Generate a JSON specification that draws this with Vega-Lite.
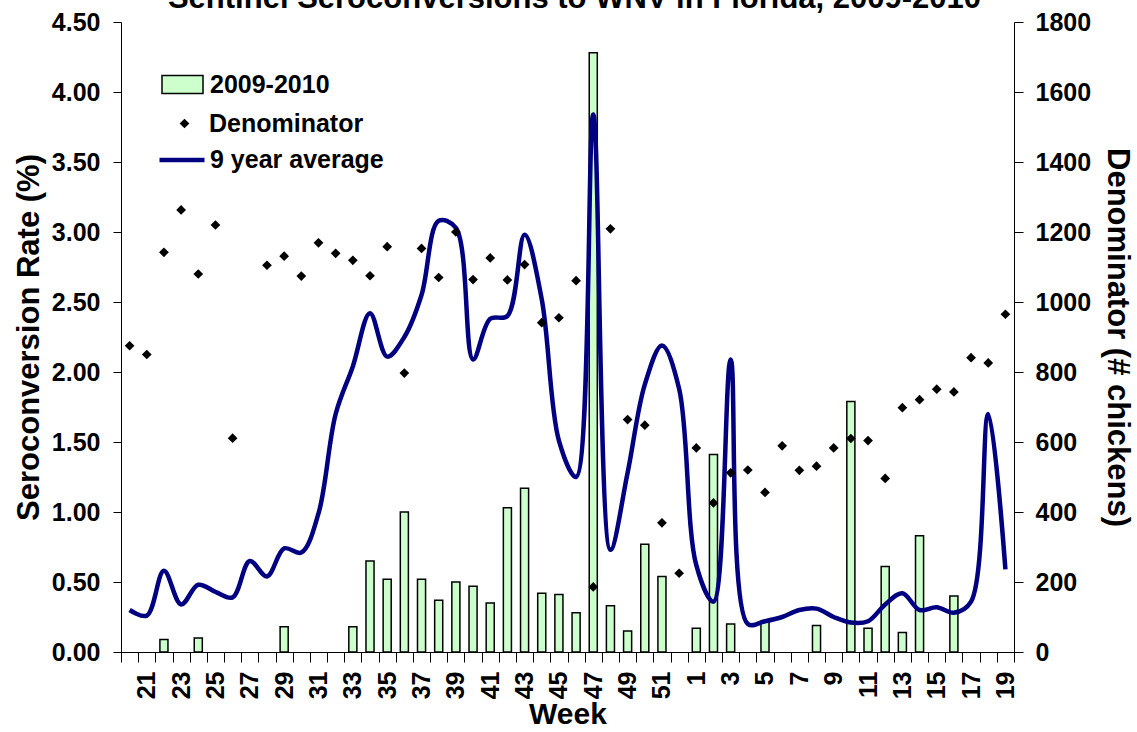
{
  "$schema": "https://vega.github.io/schema/vega-lite/v6.json",
  "autosize": "none",
  "width": 893,
  "height": 630,
  "padding": {"left": 121, "top": 22, "right": 123, "bottom": 80},
  "background": "white",
  "title": {
    "text": "Sentinel Seroconversions to WNV in Florida, 2009-2010",
    "font": "Liberation Sans",
    "fontSize": 31,
    "fontWeight": "bold",
    "color": "black",
    "anchor": "middle",
    "frame": "group",
    "baseline": "alphabetic",
    "offset": 0,
    "dy": 29,
    "dx": 7
  },
  "config": {
    "view": {"stroke": null},
    "axis": {
      "labelFont": "Liberation Sans",
      "labelFontWeight": "bold",
      "labelColor": "black",
      "titleFont": "Liberation Sans",
      "titleFontWeight": "bold",
      "titleColor": "black",
      "domainColor": "black",
      "tickColor": "black",
      "grid": false
    },
    "legend": {
      "labelFont": "Liberation Sans",
      "labelFontWeight": "bold",
      "labelFontSize": 25,
      "labelColor": "black",
      "labelLimit": 400,
      "padding": 0
    }
  },
  "data": {
    "values": [
      {"i": 0, "wk": "20", "rate": null, "den": 875, "avg": 0.30},
      {"i": 1, "wk": "21", "rate": null, "den": 850, "avg": 0.26},
      {"i": 2, "wk": "22", "rate": 0.09, "den": 1142, "avg": 0.58},
      {"i": 3, "wk": "23", "rate": null, "den": 1263, "avg": 0.34},
      {"i": 4, "wk": "24", "rate": 0.10, "den": 1080, "avg": 0.48},
      {"i": 5, "wk": "25", "rate": null, "den": 1220, "avg": 0.43},
      {"i": 6, "wk": "26", "rate": null, "den": 611, "avg": 0.39},
      {"i": 7, "wk": "27", "rate": null, "den": null, "avg": 0.65},
      {"i": 8, "wk": "28", "rate": null, "den": 1105, "avg": 0.54},
      {"i": 9, "wk": "29", "rate": 0.18, "den": 1131, "avg": 0.74},
      {"i": 10, "wk": "30", "rate": null, "den": 1074, "avg": 0.71},
      {"i": 11, "wk": "31", "rate": null, "den": 1169, "avg": 0.99},
      {"i": 12, "wk": "32", "rate": null, "den": 1139, "avg": 1.70},
      {"i": 13, "wk": "33", "rate": 0.18, "den": 1119, "avg": 2.04},
      {"i": 14, "wk": "34", "rate": 0.65, "den": 1075, "avg": 2.42},
      {"i": 15, "wk": "35", "rate": 0.52, "den": 1158, "avg": 2.11},
      {"i": 16, "wk": "36", "rate": 1.00, "den": 797, "avg": 2.25},
      {"i": 17, "wk": "37", "rate": 0.52, "den": 1153, "avg": 2.55},
      {"i": 18, "wk": "38", "rate": 0.37, "den": 1070, "avg": 3.08},
      {"i": 19, "wk": "39", "rate": 0.50, "den": 1200, "avg": 3.03},
      {"i": 20, "wk": "40", "rate": 0.47, "den": 1064, "avg": 2.09},
      {"i": 21, "wk": "41", "rate": 0.35, "den": 1126, "avg": 2.38},
      {"i": 22, "wk": "42", "rate": 1.03, "den": 1063, "avg": 2.40},
      {"i": 23, "wk": "43", "rate": 1.17, "den": 1107, "avg": 2.98},
      {"i": 24, "wk": "44", "rate": 0.42, "den": 941, "avg": 2.52},
      {"i": 25, "wk": "45", "rate": 0.41, "den": 955, "avg": 1.51},
      {"i": 26, "wk": "46", "rate": 0.28, "den": 1061, "avg": 1.25},
      {"i": 27, "wk": "47", "rate": 4.28, "den": 186, "avg": 3.84},
      {"i": 28, "wk": "48", "rate": 0.33, "den": 1209, "avg": 0.73},
      {"i": 29, "wk": "49", "rate": 0.15, "den": 664, "avg": 1.28},
      {"i": 30, "wk": "50", "rate": 0.77, "den": 648, "avg": 1.91},
      {"i": 31, "wk": "51", "rate": 0.54, "den": 369, "avg": 2.19},
      {"i": 32, "wk": "52", "rate": null, "den": 225, "avg": 1.88},
      {"i": 33, "wk": "1", "rate": 0.17, "den": 583, "avg": 0.62},
      {"i": 34, "wk": "2", "rate": 1.41, "den": 426, "avg": 0.36},
      {"i": 35, "wk": "3", "rate": 0.20, "den": 512, "avg": 2.09},
      {"i": 36, "wk": "4", "rate": null, "den": 520, "avg": 0.2},
      {"i": 37, "wk": "5", "rate": 0.22, "den": 456, "avg": 0.22},
      {"i": 38, "wk": "6", "rate": null, "den": 589, "avg": 0.25},
      {"i": 39, "wk": "7", "rate": null, "den": 519, "avg": 0.30},
      {"i": 40, "wk": "8", "rate": 0.19, "den": 531, "avg": 0.31},
      {"i": 41, "wk": "9", "rate": null, "den": 583, "avg": 0.25},
      {"i": 42, "wk": "10", "rate": 1.79, "den": 610, "avg": 0.21},
      {"i": 43, "wk": "11", "rate": 0.17, "den": 604, "avg": 0.22},
      {"i": 44, "wk": "12", "rate": 0.61, "den": 496, "avg": 0.34},
      {"i": 45, "wk": "13", "rate": 0.14, "den": 698, "avg": 0.42},
      {"i": 46, "wk": "14", "rate": 0.83, "den": 721, "avg": 0.30},
      {"i": 47, "wk": "15", "rate": null, "den": 751, "avg": 0.32},
      {"i": 48, "wk": "16", "rate": 0.40, "den": 743, "avg": 0.28},
      {"i": 49, "wk": "17", "rate": null, "den": 841, "avg": 0.36},
      {"i": 50, "wk": "18", "rate": null, "den": 826, "avg": 1.70},
      {"i": 51, "wk": "19", "rate": null, "den": 965, "avg": 0.59}
    ]
  },
  "encoding": {
    "x": {
      "field": "wk",
      "type": "ordinal",
      "scale": {
        "domain": ["20","21","22","23","24","25","26","27","28","29","30","31","32","33","34","35","36","37","38","39","40","41","42","43","44","45","46","47","48","49","50","51","52","1","2","3","4","5","6","7","8","9","10","11","12","13","14","15","16","17","18","19"],
        "paddingInner": 0,
        "paddingOuter": 0
      },
      "axis": {
        "title": "Week",
        "titleFontSize": 30,
        "titlePadding": 1,
        "labelAngle": -90,
        "labelFontSize": 25,
        "labelPadding": 9,
        "tickSize": 10,
        "tickBand": "extent",
        "labelExpr": "toNumber(datum.value) % 2 === 1 ? datum.label : ''"
      }
    }
  },
  "layer": [
    {
      "layer": [
        {
          "mark": {"type": "bar", "stroke": "black", "strokeWidth": 1.5, "width": {"band": 0.47}},
          "encoding": {
            "y": {
              "field": "rate",
              "type": "quantitative",
              "scale": {"domain": [0, 4.5], "nice": false},
              "axis": {
                "orient": "left",
                "title": "Seroconversion Rate (%)",
                "titleFontSize": 31,
                "titlePadding": 6,
                "values": [0, 0.5, 1, 1.5, 2, 2.5, 3, 3.5, 4, 4.5],
                "format": ".2f",
                "labelFontSize": 25,
                "tickSize": 8,
                "labelPadding": 13
              }
            },
            "fill": {
              "datum": "2009-2010",
              "scale": {"range": ["#ccffcc"]},
              "legend": {
                "orient": "none",
                "legendX": 40,
                "legendY": 41,
                "title": null,
                "symbolType": "M-1,-0.44L1,-0.44L1,0.44L-1,0.44Z",
                "symbolSize": 1681,
                "symbolStrokeColor": "black",
                "symbolStrokeWidth": 1.5,
                "labelOffset": 6
              }
            }
          }
        },
        {
          "mark": {"type": "line", "strokeWidth": 4.5, "interpolate": "catmull-rom"},
          "encoding": {
            "y": {"field": "avg", "type": "quantitative"},
            "order": {"field": "i", "type": "quantitative"},
            "stroke": {
              "datum": "9 year average",
              "scale": {"range": ["#000080"]},
              "legend": {
                "orient": "none",
                "legendX": 36,
                "legendY": 113,
                "title": null,
                "symbolType": "stroke",
                "symbolSize": 2025,
                "symbolStrokeWidth": 4.5,
                "labelOffset": 3
              }
            }
          }
        }
      ]
    },
    {
      "mark": {"type": "point", "filled": true, "color": "black", "size": 95, "opacity": 1},
      "encoding": {
        "y": {
          "field": "den",
          "type": "quantitative",
          "scale": {"domain": [0, 1800], "nice": false},
          "axis": {
            "orient": "right",
            "title": "Denominator (# chickens)",
            "titleFontSize": 31,
            "titlePadding": 10,
            "values": [0, 200, 400, 600, 800, 1000, 1200, 1400, 1600, 1800],
            "format": "d",
            "labelFontSize": 25,
            "tickSize": 9,
            "labelPadding": 12
          }
        },
        "shape": {
          "datum": "Denominator",
          "scale": {"range": ["diamond"]},
          "legend": {
            "orient": "none",
            "legendX": 51,
            "legendY": 89,
            "title": null,
            "symbolFillColor": "black",
            "symbolStrokeColor": "black",
            "symbolSize": 95,
            "labelOffset": 12
          }
        }
      }
    }
  ],
  "resolve": {"scale": {"y": "independent"}}
}
